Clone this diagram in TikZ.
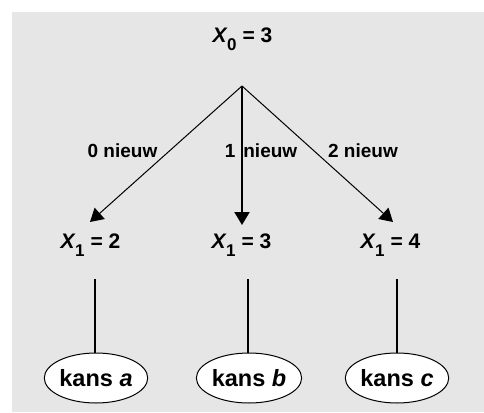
\documentclass[tikz,border=0pt]{standalone}
\usepackage{fontspec}
\setmainfont{Liberation Sans}
\usetikzlibrary{shapes.geometric,arrows.meta}
\tikzset{
  xlbl/.style={font=\bfseries\fontsize{21}{24}\selectfont, anchor=base, inner sep=0pt},
  edgelbl/.style={font=\bfseries\fontsize{19}{22}\selectfont, anchor=base, inner sep=0pt},
  kansbox/.style={ellipse, draw, fill=white, line width=1pt, minimum width=98pt,
    minimum height=50pt, inner sep=0pt, font=\bfseries\fontsize{23.5}{26}\selectfont},
  arr/.style={line width=1pt, -{Triangle[length=13pt,width=15pt]}},
  stem/.style={line width=1.5pt}
}
\definecolor{bggray}{HTML}{E6E6E6}
\newcommand{\Xsub}[1]{\textit{X}\kern-0.5pt\raisebox{-8pt}{\fontsize{17}{17}\selectfont #1}}
\begin{document}
\begin{tikzpicture}[x=1pt,y=-1pt]
  \useasboundingbox (0,0) rectangle (484,412);
  \fill[bggray] (12,12) rectangle (484,412);

  \node[xlbl] (x0) at (242.5,43) {\Xsub{0} = 3};
  \coordinate (apex) at (242,86);

  \node[xlbl] (x1a) at (90.5,248) {\Xsub{1} = 2};
  \node[xlbl] (x1b) at (241.5,248) {\Xsub{1} = 3};
  \node[xlbl] (x1c) at (390.5,248) {\Xsub{1} = 4};

  \coordinate (tipa) at (90,222);
  \coordinate (tipb) at (242,225);
  \coordinate (tipc) at (393,222);

  \draw[arr] (apex) -- (tipa);
  \draw[arr, line width=2pt] (apex) -- (tipb);
  \draw[arr] (apex) -- (tipc);

  \node[edgelbl] (la) at (122.5,157) {0 nieuw};
  \node[edgelbl] (lb) at (261,157) {1\hspace{8pt}nieuw};
  \node[edgelbl] (lc) at (363,157) {2 nieuw};

  \node[kansbox] (ka) at (96,378) {kans \textit{a}};
  \node[kansbox] (kb) at (249,378) {kans \textit{b}};
  \node[kansbox] (kc) at (397,378) {kans \textit{c}};

  \coordinate (sa) at (95,279);
  \coordinate (sb) at (248,279);
  \coordinate (sc) at (397,279);
  \draw[stem] (sa) -- (sa |- ka.north);
  \draw[stem] (sb) -- (sb |- kb.north);
  \draw[stem] (sc) -- (sc |- kc.north);
\end{tikzpicture}
\end{document}
